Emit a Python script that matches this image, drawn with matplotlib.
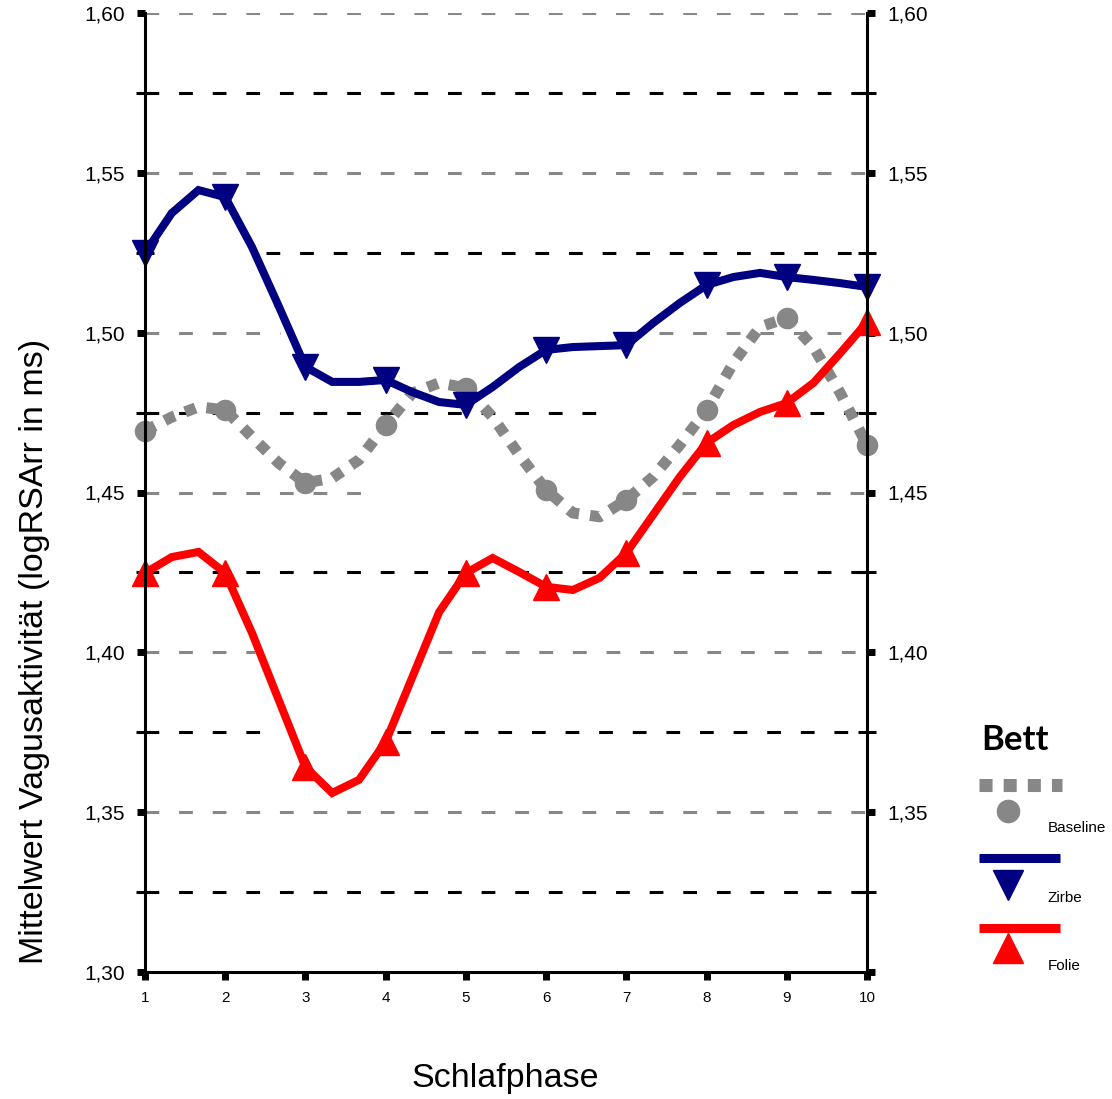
import numpy as np
import matplotlib
matplotlib.use("Agg")
import matplotlib.pyplot as plt
from matplotlib.lines import Line2D
from matplotlib.ticker import FuncFormatter

plt.rcParams['font.family'] = ['Liberation Sans', 'DejaVu Sans']

# Sleep phases (smoothed curve: vertices every third of a phase, markers on whole phases)
phase = [1, 4/3, 5/3, 2, 7/3, 8/3, 3, 10/3, 11/3, 4, 13/3, 14/3, 5, 16/3, 17/3,
         6, 19/3, 20/3, 7, 22/3, 23/3, 8, 25/3, 26/3, 9, 28/3, 29/3, 10]

baseline = [1.4693, 1.4736, 1.4768, 1.4758, 1.4674, 1.4592, 1.4530, 1.4545, 1.4602,
            1.4711, 1.4811, 1.4843, 1.4827, 1.4736, 1.4617, 1.4508, 1.4436, 1.4424,
            1.4477, 1.4549, 1.4649, 1.4758, 1.4905, 1.5018, 1.5046, 1.4955, 1.4811,
            1.4649]
zirbe = [1.5250, 1.5374, 1.5446, 1.5424, 1.5268, 1.5083, 1.4893, 1.4846, 1.4846,
         1.4852, 1.4814, 1.4783, 1.4774, 1.4830, 1.4893, 1.4946, 1.4955, 1.4958,
         1.4961, 1.5030, 1.5093, 1.5149, 1.5174, 1.5187, 1.5174, 1.5165, 1.5155,
         1.5143]
folie = [1.4248, 1.4298, 1.4314, 1.4248, 1.4061, 1.3851, 1.3641, 1.3560, 1.3601,
         1.3720, 1.3923, 1.4126, 1.4248, 1.4295, 1.4251, 1.4205, 1.4195, 1.4233,
         1.4311, 1.4430, 1.4549, 1.4655, 1.4711, 1.4752, 1.4780, 1.4843, 1.4936,
         1.5033]

x_ticks = [1, 2, 3, 4, 5, 6, 7, 8, 9, 10]
y_major = [1.30, 1.35, 1.40, 1.45, 1.50, 1.55, 1.60]
y_minor = [1.325, 1.375, 1.425, 1.475, 1.525, 1.575]

legend_title = "Bett"
series_names = ["Baseline", "Zirbe", "Folie"]

GRAY = '#878787'
BLUE = '#000080'
RED = '#ff0000'

W, H = 1112, 1099
fig = plt.figure(figsize=(W / 100, H / 100), dpi=100)
ax = fig.add_axes([145 / W, 1 - 972 / H, (867 - 145) / W, (972 - 13) / H])
ax.set_xlim(1, 10)
ax.set_ylim(1.30, 1.60)

# Reference lines: grey at the labelled values, black in between
grid_segments = {
    1.60: [(1, 10)], 1.55: [(1, 10)], 1.50: [(1, 2.68), (7.41, 10)],
    1.45: [(1, 3.84), (7.69, 10)], 1.40: [(1, 2.37), (4.65, 10)], 1.35: [(1, 10)],
    1.575: [(1, 10)], 1.525: [(2.51, 10)], 1.475: [(1, 6.86), (9.29, 10)],
    1.425: [(1, 10)], 1.375: [(1, 2.65), (4.14, 10)], 1.325: [(1, 10)],
}
for yv, segs in grid_segments.items():
    col = GRAY if yv in y_major else 'black'
    for a, b in segs:
        ax.plot([a, b], [yv, yv], color=col, lw=2.2, dashes=(4.5, 6.5),
                zorder=1, solid_capstyle='butt')

ax.plot(phase, baseline, color=GRAY, lw=8, dashes=(1.0, 1.0), marker='o', ms=14.5,
        markevery=3, mfc=GRAY, mec=GRAY, clip_on=False, zorder=3)
ax.plot(phase, zirbe, color=BLUE, lw=5.8, marker='v', ms=19, markevery=3,
        mfc=BLUE, mec=BLUE, clip_on=False, zorder=4, solid_joinstyle='miter')
ax.plot(phase, folie, color=RED, lw=5.8, marker='^', ms=19, markevery=3,
        mfc=RED, mec=RED, clip_on=False, zorder=5, solid_joinstyle='miter')

for s in ['left', 'right', 'bottom']:
    ax.spines[s].set_linewidth(2.2)
    ax.spines[s].set_color('black')
    ax.spines[s].set_zorder(6)
ax.spines['top'].set_visible(False)

ax.set_xticks(x_ticks)
ax.set_xticklabels([str(v) for v in x_ticks])
ax.set_yticks(y_major)
ax.set_yticks(y_minor, minor=True)
ax.yaxis.set_major_formatter(FuncFormatter(lambda v, p: f"{v:.2f}".replace('.', ',')))

ax.tick_params(axis='x', which='major', direction='out', length=5.5, width=5,
               labelsize=11, pad=8, color='black')
ax.tick_params(axis='y', which='major', direction='out', length=5.5, width=5,
               left=True, right=True, labelleft=True, labelright=True,
               labelsize=15, pad=9)
ax.tick_params(axis='y', which='minor', direction='inout', length=13, width=2.2,
               left=True, right=True)
ax.yaxis.get_major_ticks()[0].label2.set_visible(False)

fig.text(35 / W, 1 - 651 / H, "Mittelwert Vagusaktivität (logRSArr in ms)",
         rotation=90, ha='center', va='center', fontsize=24.5)
fig.text(505 / W, 1 - 1078 / H, "Schlafphase", ha='center', va='center', fontsize=24.5)

# Legend, drawn in pixel coordinates of the figure
lg = fig.add_axes([0, 0, 1, 1])
lg.set_xlim(0, W)
lg.set_ylim(H, 0)
lg.axis('off')
lg.patch.set_alpha(0)
lg.text(981, 740, legend_title, fontsize=25, fontweight='bold', family='Lato',
        ha='left', va='center')
lg.add_line(Line2D([979, 1062], [785, 785], color=GRAY, lw=9.4, dashes=(1.0, 0.85)))
lg.plot([1008], [811], marker='o', ms=16, color=GRAY)
lg.text(1048, 828, series_names[0], fontsize=11, ha='left', va='center')
lg.add_line(Line2D([979, 1060], [857.5, 857.5], color=BLUE, lw=6.5, solid_capstyle='butt'))
lg.plot([1008], [885], marker='v', ms=21, color=BLUE)
lg.text(1048, 898, series_names[1], fontsize=11, ha='left', va='center')
lg.add_line(Line2D([979, 1060], [927.5, 927.5], color=RED, lw=6.5, solid_capstyle='butt'))
lg.plot([1008], [948], marker='^', ms=21, color=RED)
lg.text(1048, 966, series_names[2], fontsize=11, ha='left', va='center')

fig.savefig('out.png', dpi=100)
